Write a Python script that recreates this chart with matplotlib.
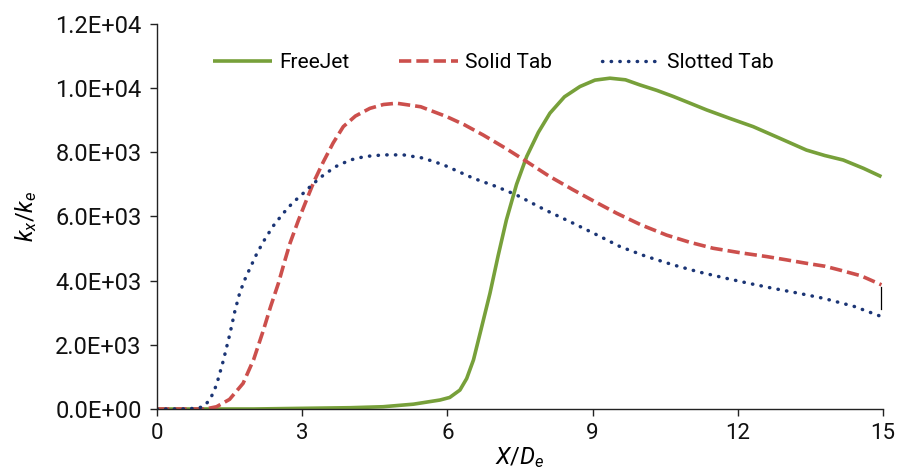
import matplotlib
matplotlib.use("Agg")
import matplotlib.pyplot as plt
from matplotlib.ticker import FuncFormatter

# ---- data ----
free_x = [0.0, 1.0, 2.0, 3.0, 4.0, 4.67, 5.3, 5.85, 6.05, 6.26, 6.4, 6.54, 6.7, 6.88, 7.05, 7.22,
          7.43, 7.64, 7.88, 8.12, 8.42, 8.74, 9.05, 9.36, 9.68, 9.98, 10.33, 10.67, 11.0, 11.36,
          11.85, 12.32, 12.85, 13.42, 13.8, 14.18, 14.6, 14.97]
free_y = [0, 0, 0, 20, 40, 70, 150, 280, 360, 590, 950, 1530, 2500, 3600, 4780, 5890,
          7000, 7870, 8620, 9220, 9730, 10050, 10250, 10310, 10260, 10100, 9930, 9740, 9540, 9320,
          9050, 8800, 8450, 8070, 7900, 7760, 7500, 7240]

solid_x = [0.0, 0.6, 1.0, 1.23, 1.5, 1.78, 2.0, 2.2, 2.35, 2.51, 2.63, 2.75, 2.92, 3.09, 3.25, 3.44,
           3.64, 3.85, 4.1, 4.4, 4.68, 4.95, 5.45, 5.99, 6.35, 6.74, 7.2, 7.64, 8.1, 8.6, 9.05,
           9.5, 10.0, 10.53, 11.0, 11.49, 12.05, 12.6, 13.0, 13.42, 13.8, 14.11, 14.55, 14.97]
solid_y = [0, 0, 0, 70, 300, 800, 1550, 2460, 3200, 3920, 4560, 5170, 5870, 6515, 7110, 7710,
           8290, 8800, 9130, 9370, 9490, 9530, 9420, 9110, 8860, 8540, 8130, 7710, 7260, 6830, 6460,
           6100, 5740, 5420, 5200, 5010, 4870, 4750, 4650, 4540, 4450, 4330, 4150, 3870]

slot_x = [0.0, 0.5, 0.8, 0.96, 1.1, 1.23, 1.37, 1.51, 1.61, 1.71, 1.82, 1.92, 2.05, 2.2, 2.4, 2.61,
          2.8, 3.02, 3.22, 3.44, 3.7, 3.99, 4.3, 4.68, 5.09, 5.5, 5.92, 6.54, 7.0, 7.43, 8.0, 8.6,
          9.1, 9.57, 10.1, 10.67, 11.2, 11.77, 12.25, 12.73, 13.25, 13.77, 14.4, 14.97]
slot_y = [0, 0, 20, 70, 300, 750, 1500, 2360, 3050, 3620, 4050, 4380, 4800, 5220, 5700, 6100,
          6420, 6720, 7010, 7290, 7560, 7760, 7870, 7920, 7920, 7820, 7610, 7190, 6940, 6670, 6220, 5790,
          5420, 5060, 4760, 4490, 4270, 4070, 3910, 3760, 3610, 3450, 3200, 2880]

labels = ["FreeJet", "Solid Tab", "Slotted Tab"]
x_ticks = [0, 3, 6, 9, 12, 15]
y_ticks = [0, 2000, 4000, 6000, 8000, 10000, 12000]

# ---- figure ----
plt.rcParams['font.family'] = ['Roboto', 'DejaVu Sans']
plt.rcParams['mathtext.fontset'] = 'custom'
plt.rcParams['mathtext.it'] = 'Roboto:italic'
plt.rcParams['mathtext.rm'] = 'Roboto'
fig = plt.figure(figsize=(9, 4.72), dpi=100)
ax = fig.add_axes([0.1744, 0.1335, 0.8066, 0.8157])

ax.plot(free_x, free_y, color="#77A03A", lw=2.6, solid_capstyle="butt", label=labels[0])
ax.plot(solid_x, solid_y, color="#CC4F4C", lw=2.6, dashes=(3.4, 1.4), label=labels[1])
ax.plot(slot_x, slot_y, color="#1B3575", lw=2.5, dashes=(0.1, 2.4), dash_capstyle="round",
        label=labels[2])
# small vertical marker at the right end (present in the reference)
ax.plot([solid_x[-1], slot_x[-1]], [solid_y[-1] - 60, slot_y[-1] + 250], color="black", lw=0.9)

ax.set_xlim(0, 15)
ax.set_ylim(0, 12000)
ax.set_xticks(x_ticks)
ax.set_yticks(y_ticks)
ax.yaxis.set_major_formatter(FuncFormatter(
    lambda v, p: "{:.1E}".format(v) if v != 0 else "0.0E+00"))

for s in ["top", "right"]:
    ax.spines[s].set_visible(False)
for s in ["left", "bottom"]:
    ax.spines[s].set_color("#222222")
    ax.spines[s].set_linewidth(1.0)

ax.tick_params(axis="both", direction="out", length=5, width=1.0, color="#222222",
               labelcolor="#111111")
ax.tick_params(axis="y", pad=6, labelsize=17)
ax.tick_params(axis="x", pad=5, labelsize=16)

ax.set_xlabel(r"$X/D_e$", fontsize=17, labelpad=1)
ax.set_ylabel(r"$k_x/k_e$", fontsize=17, labelpad=12)

leg = ax.legend(loc="center", bbox_to_anchor=(0.464, 0.90), ncol=3, frameon=False,
                fontsize=15, handlelength=2.8, columnspacing=2.4, handletextpad=0.35)

fig.savefig("out.png", dpi=100)
